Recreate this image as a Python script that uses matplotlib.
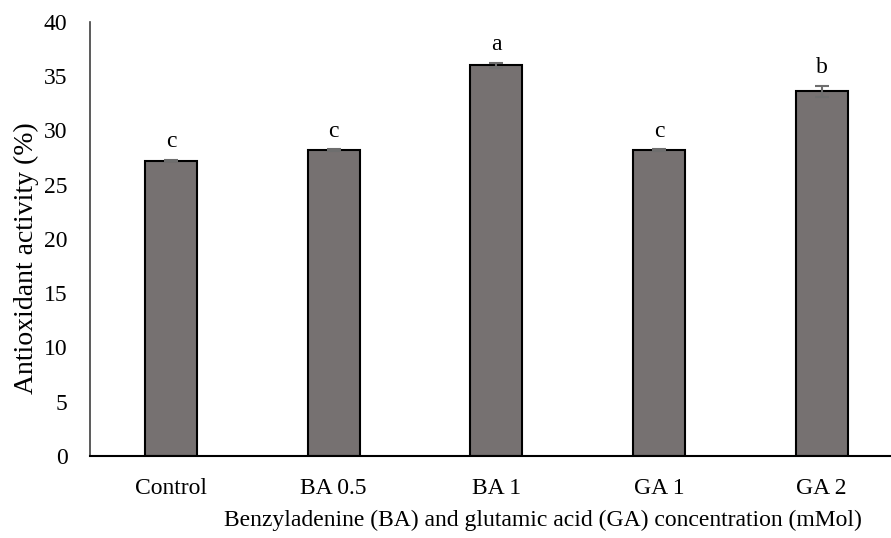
import matplotlib
matplotlib.use("Agg")
import matplotlib.pyplot as plt
import numpy as np

categories = ["Control", "BA 0.5", "BA 1", "GA 1", "GA 2"]
values = [27.2, 28.2, 36.0, 28.2, 33.6]
errors = [0.05, 0.05, 0.25, 0.05, 0.5]
letters = ["c", "c", "a", "c", "b"]
yticks = [0, 5, 10, 15, 20, 25, 30, 35, 40]

plt.rcParams['font.family'] = ['Liberation Serif', 'DejaVu Serif']

fig = plt.figure(figsize=(8.91, 5.38), dpi=100)
ax = fig.add_axes([89.6/891, 1-456/538, (903-89.6)/891, (456-22)/538])

x = np.arange(len(categories))
ax.bar(x, values, width=0.32, color="#767171", edgecolor="black", linewidth=1.5, zorder=2)
ax.errorbar(x, values, yerr=errors, fmt="none", ecolor="#6e6e6e", elinewidth=1.5,
            capsize=5, capthick=1.5, zorder=3)
for xi, v, e, l in zip(x, values, errors, letters):
    ax.text(xi, v + e + 1.7, l, ha="center", va="center", fontsize=17)

ax.set_xlim(-0.5, len(categories) - 0.5)
ax.set_ylim(0, 40)
ax.set_yticks(yticks)
ax.set_xticks(x)
ax.set_xticklabels(categories)
ax.tick_params(axis="both", length=0, labelsize=17)
ax.tick_params(axis="y", pad=16)
ax.tick_params(axis="x", pad=16)
for s in ["top", "right"]:
    ax.spines[s].set_visible(False)
ax.spines["left"].set_color("#404040")
ax.spines["left"].set_linewidth(1.2)
ax.spines["bottom"].set_color("black")
ax.spines["bottom"].set_linewidth(1.5)

fig.text(26/891, 1-258/538, "Antioxidant activity (%)", rotation=90,
         ha="center", va="center", fontsize=20)
fig.text(543/891, 1-520/538, "Benzyladenine (BA) and glutamic acid (GA) concentration (mMol)",
         ha="center", va="center", fontsize=17)

fig.savefig("out.png", dpi=100)
